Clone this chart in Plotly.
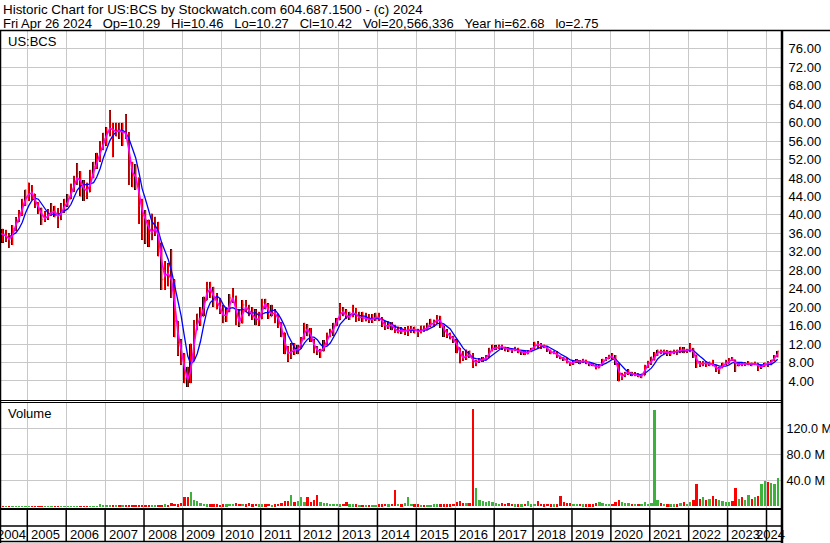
import numpy as np
import pandas as pd
import plotly.graph_objects as go

# ---------------- data (monthly, Apr 2004 .. Apr 2024) ----------------
close = [
    36.0, 35.5, 35.5, 34.0, 37.0, 38.5, 40.0, 42.5, 44.0,                   # 2004 Apr-Dec
    45.0, 44.5, 42.0, 41.5, 39.0, 39.5, 40.0, 41.0, 40.5, 39.0, 41.5, 42.0,  # 2005
    43.5, 45.5, 47.0, 49.0, 46.0, 45.5, 45.0, 48.0, 50.5, 52.0, 54.5, 56.5,  # 2006
    58.0, 59.5, 57.5, 58.5, 58.0, 58.0, 57.5, 50.0, 48.5, 48.0, 42.0, 40.0,  # 2007
    38.5, 36.0, 36.5, 37.5, 34.0, 26.0, 27.5, 27.0, 25.0, 17.0, 12.0, 9.5,   # 2008
    4.5, 4.0, 8.5, 15.0, 17.5, 18.0, 21.5, 24.5, 23.5, 21.5, 21.0, 19.0,     # 2009
    17.5, 19.0, 22.0, 22.0, 17.0, 16.5, 20.5, 19.5, 19.0, 18.0, 17.0, 17.5,  # 2010
    21.0, 20.5, 18.0, 19.0, 18.5, 16.5, 14.5, 10.5, 9.5, 11.0, 10.5, 11.0,   # 2011
    13.0, 15.5, 15.0, 13.0, 11.0, 10.3, 10.5, 11.8, 14.0, 14.5, 16.0, 17.3,  # 2012
    19.5, 18.5, 17.8, 18.0, 19.5, 17.5, 18.0, 17.5, 17.5, 17.2, 17.5, 18.0,  # 2013
    17.5, 16.5, 15.5, 16.3, 16.0, 14.6, 15.0, 14.8, 14.8, 15.2, 15.2, 15.0,  # 2014
    14.5, 15.2, 15.0, 16.0, 16.5, 16.5, 18.0, 16.0, 14.8, 14.0, 13.5, 12.8,  # 2015
    11.2, 9.3, 8.8, 9.8, 9.5, 7.7, 8.3, 8.6, 8.7, 9.0, 10.8, 11.1,           # 2016
    11.2, 11.5, 11.3, 10.9, 10.8, 10.6, 11.0, 10.3, 10.4, 9.9, 10.4, 11.0,   # 2017
    12.0, 11.8, 11.7, 11.5, 10.6, 10.1, 10.2, 9.3, 9.0, 8.8, 8.0, 7.7,       # 2018
    8.3, 8.3, 8.1, 8.5, 7.8, 7.6, 7.4, 6.8, 7.4, 8.6, 8.8, 9.5,              # 2019
    9.0, 7.8, 4.6, 5.3, 5.8, 5.8, 5.3, 5.4, 5.0, 5.2, 7.2, 8.0,              # 2020
    8.5, 9.8, 10.4, 10.3, 10.4, 10.0, 10.1, 10.4, 10.2, 11.0, 10.5, 10.7,    # 2021
    11.0, 9.6, 7.8, 7.6, 8.1, 7.6, 7.8, 7.4, 6.4, 6.8, 7.7, 7.8,             # 2022
    8.8, 8.6, 7.3, 7.8, 7.6, 7.8, 7.8, 7.6, 7.8, 6.9, 7.2, 7.8,              # 2023
    7.6, 8.5, 9.3, 10.42,                                                    # 2024
]
high = [
    37.5, 37.0, 36.8, 36.0, 37.8, 39.5, 41.0, 43.5, 45.5,
    47.0, 46.5, 44.5, 42.8, 41.5, 40.8, 41.2, 42.5, 42.0, 41.5, 42.5, 43.5,
    44.5, 46.8, 48.5, 51.2, 49.5, 47.5, 47.0, 49.8, 51.5, 53.5, 56.0, 57.8,
    59.0, 62.7, 60.0, 60.0, 60.0, 60.0, 61.8, 58.0, 51.5, 51.0, 47.0, 43.5,
    41.0, 39.0, 40.3, 39.6, 38.5, 33.0, 30.0, 29.5, 32.5, 26.0, 17.0, 13.0,
    10.0, 7.1, 12.1, 17.2, 18.6, 20.0, 22.3, 25.5, 25.5, 24.4, 23.0, 22.0,
    20.5, 20.0, 22.8, 24.1, 22.5, 19.5, 21.5, 21.5, 20.5, 20.0, 19.5, 19.0,
    21.8, 21.8, 20.8, 20.5, 19.5, 18.5, 16.8, 14.5, 11.5, 12.2, 12.2, 11.8,
    13.5, 16.6, 16.3, 15.5, 13.0, 11.5, 11.0, 12.8, 14.5, 15.3, 16.6, 17.6,
    20.8, 20.0, 19.5, 19.0, 20.5, 19.8, 19.0, 19.0, 18.8, 18.5, 18.5, 18.8,
    18.8, 17.8, 17.0, 17.0, 16.8, 16.2, 15.8, 15.6, 15.6, 15.9, 15.9, 15.8,
    15.3, 16.0, 16.0, 16.6, 17.5, 17.3, 18.3, 18.0, 16.0, 15.2, 14.5, 13.8,
    13.0, 11.0, 10.5, 10.8, 10.6, 10.0, 8.6, 9.0, 9.2, 9.6, 11.2, 11.9,
    11.7, 11.9, 11.9, 11.4, 11.3, 11.0, 11.4, 11.2, 10.6, 10.6, 10.7, 11.2,
    12.5, 12.6, 12.2, 11.9, 11.6, 10.8, 10.6, 10.4, 9.5, 9.2, 9.0, 8.2,
    8.4, 8.7, 8.5, 8.8, 8.6, 8.0, 7.9, 7.5, 7.6, 8.8, 9.1, 9.7,
    10.0, 9.6, 8.0, 5.8, 6.0, 6.5, 6.0, 5.9, 5.7, 5.6, 7.5, 8.4,
    9.3, 10.2, 10.8, 10.8, 10.8, 10.7, 10.6, 10.8, 10.8, 11.4, 11.3, 11.0,
    12.2, 11.1, 9.5, 8.3, 8.3, 8.3, 8.2, 8.6, 7.5, 7.0, 8.0, 8.6,
    9.0, 9.2, 8.6, 8.1, 8.0, 8.1, 8.3, 8.0, 8.2, 7.9, 7.5, 8.0,
    8.3, 8.6, 9.6, 10.5,
]
low = [
    34.5, 34.0, 34.2, 32.8, 33.5, 36.5, 38.5, 39.8, 42.0,
    43.0, 43.2, 41.5, 40.2, 37.8, 38.5, 39.0, 39.8, 39.5, 37.2, 39.5, 40.5,
    41.8, 43.5, 45.0, 46.5, 44.0, 43.0, 43.5, 45.5, 48.5, 50.0, 51.5, 54.0,
    55.0, 57.0, 52.5, 57.0, 56.5, 55.0, 56.5, 46.5, 46.0, 45.5, 38.0, 34.6,
    33.8, 33.1, 34.5, 35.5, 31.0, 23.7, 23.7, 24.5, 22.0, 13.5, 9.5, 7.5,
    3.5, 2.75, 3.5, 11.4, 15.8, 16.0, 18.6, 22.3, 22.0, 20.1, 19.5, 18.6,
    16.5, 16.8, 19.0, 21.0, 16.1, 15.8, 16.5, 19.0, 18.0, 17.2, 16.1, 16.0,
    18.5, 19.5, 17.5, 18.0, 16.5, 15.5, 13.5, 9.8, 8.2, 8.8, 9.7, 9.8,
    10.9, 13.0, 13.7, 12.5, 10.0, 9.7, 9.0, 10.4, 11.8, 13.5, 13.8, 15.9,
    17.5, 18.0, 17.5, 17.2, 17.8, 16.8, 17.0, 16.8, 16.9, 16.6, 16.6, 17.0,
    17.0, 15.8, 15.1, 15.3, 15.0, 14.4, 14.3, 14.2, 14.0, 13.8, 14.4, 14.3,
    13.6, 14.3, 14.6, 15.0, 15.8, 15.8, 16.4, 15.5, 13.6, 13.4, 13.0, 12.3,
    10.0, 7.8, 8.3, 8.6, 9.0, 6.8, 7.2, 8.0, 8.2, 8.6, 9.0, 10.4,
    10.8, 10.9, 10.8, 10.4, 10.3, 10.1, 10.5, 10.0, 9.7, 9.6, 9.8, 10.2,
    11.2, 11.2, 11.0, 11.1, 10.3, 9.8, 9.8, 9.0, 8.7, 8.3, 7.8, 7.3,
    7.5, 8.0, 7.6, 8.0, 7.6, 7.2, 7.2, 6.5, 6.8, 7.3, 8.4, 8.8,
    8.7, 7.5, 3.9, 4.2, 4.8, 5.3, 5.0, 5.0, 4.8, 4.6, 5.3, 6.8,
    7.5, 8.5, 9.4, 9.8, 9.9, 9.5, 9.5, 9.8, 9.6, 10.1, 10.0, 10.1,
    10.2, 9.0, 6.8, 7.1, 7.2, 7.0, 7.2, 7.2, 6.0, 5.5, 6.8, 7.5,
    8.0, 8.4, 6.0, 7.2, 7.2, 7.3, 7.4, 7.2, 7.4, 6.2, 6.7, 7.1,
    7.1, 7.4, 8.4, 9.1,
]
volume_m = [
    0.3, 0.3, 0.3, 0.3, 0.3, 0.3, 0.3, 0.3, 0.3,
    0.3, 0.3, 0.3, 0.3, 0.3, 0.3, 0.3, 0.3, 0.3, 0.3, 0.3, 0.3,
    0.4, 0.4, 0.4, 0.4, 0.4, 0.4, 0.4, 0.4, 0.4, 0.4, 3.0, 0.5,
    1.0, 1.2, 1.0, 0.8, 0.8, 0.8, 1.0, 1.5, 1.5, 1.2, 1.5, 1.5,
    1.5, 1.5, 2.0, 1.5, 2.0, 2.5, 3.0, 2.5, 4.5, 4.0, 3.0, 4.5,
    15, 15, 22, 10, 8, 5, 4, 3, 3, 3, 3, 2.5,
    3, 3, 3.5, 4, 5.5, 4, 3.5, 3, 4.5, 3, 3.5, 3,
    3, 3, 4, 2.5, 3, 4, 5, 8, 8, 17, 7, 8,
    15, 6, 15, 7, 10, 17, 7, 5, 5, 4, 4, 4,
    3, 4, 6, 3, 3, 3, 2.5, 2.5, 2.5, 2, 2.5, 2.5,
    3, 3, 4, 3, 4, 25, 4, 3, 5, 15, 4, 3,
    3, 2.5, 2.5, 2.5, 2.5, 3, 3, 3, 3, 3, 3, 4,
    7, 8, 5, 5, 5, 150, 28, 9, 8, 7, 8, 6,
    5, 4, 5, 4, 5, 4, 3, 3, 3, 4, 8, 3,
    4, 8, 4, 3, 4, 3, 3, 3, 16, 6, 5, 5,
    4, 4, 4, 3, 3, 3, 3, 5, 6, 5, 4, 4,
    4, 6, 10, 7, 5, 5, 4, 4, 4, 4, 6, 4,
    5, 148, 10, 5, 4, 3, 3, 3, 3, 5, 6, 4,
    6, 10, 35, 12, 14, 10, 12, 16, 12, 10, 8, 6,
    6, 8, 28, 12, 14, 10, 17, 12, 14, 16, 34, 39,
    38, 36, 34, 44,
]
year_labels = [str(y) for y in range(2004, 2025)]
price_ticks = list(range(4, 80, 4))
volume_ticks = [40, 80, 120]
volume_ticktext = ["40.0 M", "80.0 M", "120.0 M"]
title_line1 = "Historic Chart for US:BCS by Stockwatch.com 604.687.1500 - (c) 2024"
title_line2_parts = ["Fri Apr 26 2024", "Op=10.29", "Hi=10.46", "Lo=10.27", "Cl=10.42",
                     "Vol=20,566,336", "Year hi=62.68", "lo=2.75"]

n = len(close)
assert len(high) == n and len(low) == n and len(volume_m) == n, (len(close), len(high), len(low), len(volume_m))

dates = pd.date_range("2004-04-01", periods=n, freq="MS") + pd.Timedelta(days=14)
c = pd.Series(close, dtype=float)
o = c.shift(1).fillna(c.iloc[0])
h = np.maximum.reduce([np.array(high), o.values, c.values])
l = np.minimum.reduce([np.array(low), o.values, c.values])
ma_fast = c.rolling(2, min_periods=1).mean()
ma_slow = c.rolling(5, min_periods=4).mean()
vol_colors = ["#3cb23c" if cc >= oo else "#ff0000" for cc, oo in zip(c, o)]

# ---------------- geometry helpers (pixels -> paper) ----------------
W, H = 830, 543
L, R, T, B = 1, 782, 31, 508
def PX(x):
    return (x - L) / (R - L)
def PY(y):
    return (B - y) / (B - T)

FONT = "Liberation Sans, Arial, sans-serif"
GRID = "#c8c8c8"
DAY_MS = 24 * 3600 * 1000

fig = go.Figure()
# red open/close ticks (OHLC) ...
fig.add_trace(go.Ohlc(
    x=dates, open=o, high=h, low=l, close=c,
    increasing=dict(line=dict(color="#ff0000", width=1.6)),
    decreasing=dict(line=dict(color="#ff0000", width=1.6)),
    tickwidth=0.35, xaxis="x", yaxis="y", showlegend=False, hoverinfo="skip"))
# ... with black high-low bars on top
fig.add_trace(go.Bar(x=dates, y=h - l, base=l, width=15 * DAY_MS,
                     marker=dict(color="black", line=dict(width=0)),
                     xaxis="x", yaxis="y", showlegend=False, hoverinfo="skip"))
fig.add_trace(go.Scatter(x=dates, y=ma_slow, mode="lines", line=dict(color="#0000ff", width=1.3),
                         xaxis="x", yaxis="y", showlegend=False, hoverinfo="skip"))
fig.add_trace(go.Scatter(x=dates, y=ma_fast, mode="lines", line=dict(color="#ff00ff", width=1.6),
                         xaxis="x", yaxis="y", showlegend=False, hoverinfo="skip"))
fig.add_trace(go.Bar(x=dates, y=volume_m, marker=dict(color=vol_colors, line=dict(width=0)),
                     width=22 * DAY_MS, xaxis="x2", yaxis="y2",
                     showlegend=False, hoverinfo="skip"))

year_starts = [f"{y}-01-01" for y in range(2005, 2025)]
xr = ["2004-04-29", "2024-05-25 12:00"]

fig.update_layout(
    width=W, height=H, autosize=False,
    margin=dict(l=L, r=W - R, t=T, b=H - B, pad=0, autoexpand=False),
    paper_bgcolor="white", plot_bgcolor="white",
    font=dict(family=FONT, size=13, color="black"),
    xaxis=dict(type="date", range=xr, domain=[0, 1], anchor="y", automargin=False,
               tickvals=year_starts, showticklabels=False, showgrid=True,
               gridcolor=GRID, gridwidth=1, zeroline=False, showline=False,
               rangeslider=dict(visible=False), fixedrange=True),
    xaxis2=dict(type="date", range=xr, domain=[0, 1], anchor="y2", matches="x", automargin=False,
                tickvals=year_starts, showticklabels=False, showgrid=True,
                gridcolor=GRID, gridwidth=1, zeroline=False, showline=False),
    yaxis=dict(domain=[PY(400), 1], range=[(399.4 - 400) / 4.6125, (399.4 - 31) / 4.6125],
               side="right", tickvals=price_ticks, automargin=False,
               ticktext=[f"{v:.2f}" for v in price_ticks],
               showgrid=True, gridcolor=GRID, gridwidth=1, zeroline=False,
               ticks="outside", ticklen=3, tickcolor="rgba(0,0,0,0)",
               tickfont=dict(family=FONT, size=13, color="black")),
    yaxis2=dict(domain=[0, PY(403)], range=[(506.3 - 508) * 1.538, (506.3 - 403) * 1.538],
                side="right", tickvals=volume_ticks, ticktext=volume_ticktext, automargin=False,
                showgrid=True, gridcolor=GRID, gridwidth=1, zeroline=False,
                ticks="outside", ticklen=1, tickcolor="rgba(0,0,0,0)",
                tickfont=dict(family=FONT, size=12.6, color="black")),
    bargap=0, barmode="overlay",
)

shapes = []
def hline(y, x0, x1, w=1):
    shapes.append(dict(type="line", xref="paper", yref="paper", x0=PX(x0), x1=PX(x1),
                       y0=PY(y), y1=PY(y), line=dict(color="black", width=w)))
def vline(x, y0, y1, w=1):
    shapes.append(dict(type="line", xref="paper", yref="paper", x0=PX(x), x1=PX(x),
                       y0=PY(y0), y1=PY(y1), line=dict(color="black", width=w)))

hline(30.5, 0, 830, 1.5)
hline(400.5, 0, 782, 1)
hline(402.5, 0, 782, 1)
hline(509, 0, 782, 2)
hline(526, 0, 782, 1.5)
hline(541.5, 0, 782, 1.5)
vline(0.5, 31, 543, 1.5)
vline(782, 30, 543, 2.5)
year_px = [27.3 + (766.5 - 27.3) * i / 19 for i in range(20)]
for xp in year_px:
    vline(xp, 509, 541.5, 1.5)
fig.update_layout(shapes=shapes)

ann = []
def text(x, y, s, anchor="left", size=13):
    ann.append(dict(xref="paper", yref="paper", x=PX(x), y=PY(y), text=s, showarrow=False,
                    xanchor=anchor, yanchor="middle", font=dict(family=FONT, size=size, color="black"),
                    borderpad=0))

sp = "\u00a0\u00a0\u00a0"
text(2, 9.5, title_line1, size=13.4)
text(2, 23.5, sp.join(title_line2_parts))
text(7, 41, "US:BCS")
text(7, 413, "Volume")
# year labels in the bottom band
text(27, 534, year_labels[0], anchor="right")
for i, lab in enumerate(year_labels[1:-1]):
    text(year_px[i] + 2.5, 534, lab)
text(786, 534, year_labels[-1], anchor="right")
fig.update_layout(annotations=ann)

fig.write_html("out.html", config={"displayModeBar": False},
               post_script="document.body.style.margin='0';document.body.style.padding='0';")
